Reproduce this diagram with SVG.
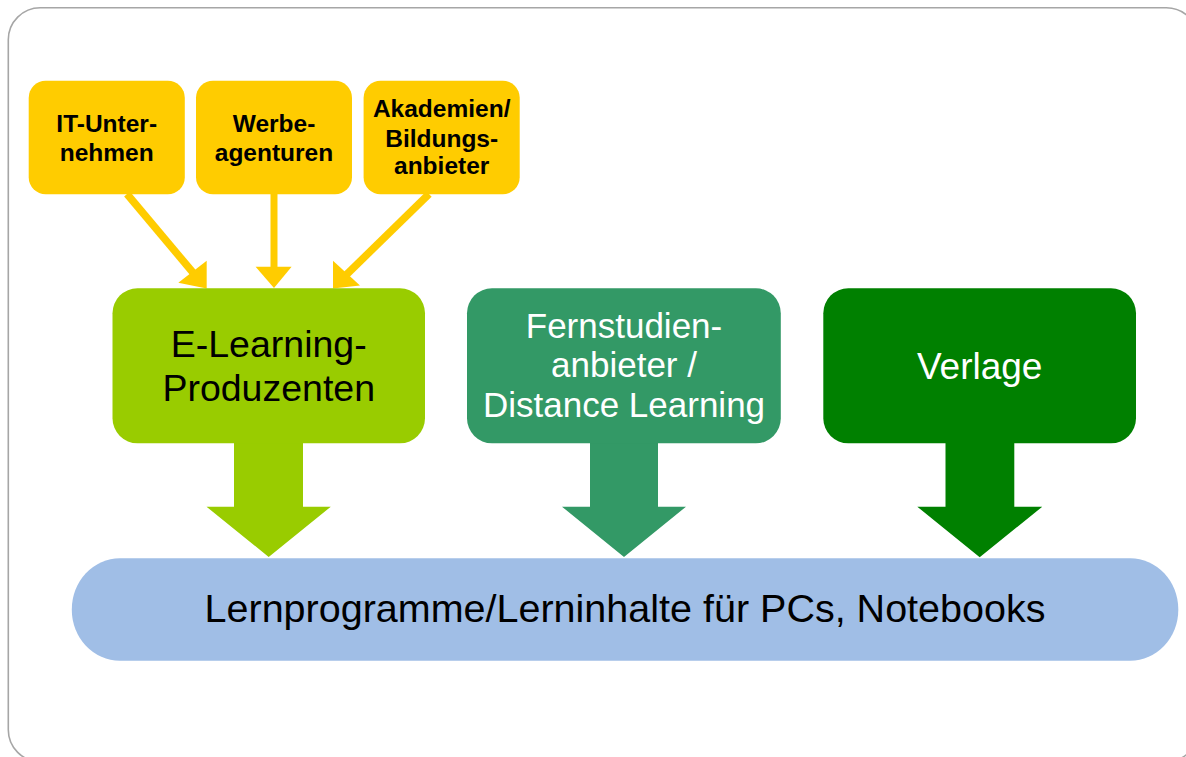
<svg xmlns="http://www.w3.org/2000/svg" width="1186" height="757" viewBox="0 0 1186 757">
<style>
.ybox{fill:#FFCC00}
.ytxt{font-family:"Liberation Sans",Arial,sans-serif;font-weight:bold;font-size:24.5px;fill:#000;text-anchor:middle}
.gtxt{font-family:"Liberation Sans",Arial,sans-serif;text-anchor:middle}
.yline{stroke:#FFCC00;stroke-width:7.5;fill:none}
.yhead{fill:#FFCC00}
</style>
<rect x="8.3" y="7.7" width="1190" height="754" rx="32" ry="32" fill="#FFFFFF" stroke="#A6A6A6" stroke-width="1.6"/>
<g id="connectors">
  <line class="yline" x1="127" y1="194" x2="195" y2="275"/>
  <polygon class="yhead" points="178.3,282.7 206.7,260.7 206.7,288.5"/>
  <line class="yline" x1="274" y1="194" x2="274" y2="268" style="stroke-width:7"/>
  <polygon class="yhead" points="255.6,266.7 291.6,266.7 274,288"/>
  <line class="yline" x1="429" y1="194" x2="343" y2="278"/>
  <polygon class="yhead" points="333,260.7 333,288.5 360,285.5"/>
  <polygon fill="#99CC00" points="234,440 303,440 303,506.7 330.8,506.7 268.7,557 206.5,506.7 234,506.7"/>
  <polygon fill="#339966" points="590,440 658,440 658,506.7 686,506.7 624,557 562,506.7 590,506.7"/>
  <polygon fill="#008000" points="945.5,440 1014.3,440 1014.3,506.7 1042.3,506.7 979.7,557.3 917.3,506.7 945.5,506.7"/>
</g>
<g id="it-unternehmen">
  <rect class="ybox" x="28.7" y="80.7" width="156.1" height="113.6" rx="17"/>
  <text class="ytxt" x="106.7" y="131.7">IT-Unter-</text>
  <text class="ytxt" x="106.7" y="161">nehmen</text>
</g>
<g id="werbeagenturen">
  <rect class="ybox" x="196" y="80.7" width="156" height="113.6" rx="17"/>
  <text class="ytxt" x="274" y="131.7">Werbe-</text>
  <text class="ytxt" x="274" y="161">agenturen</text>
</g>
<g id="akademien">
  <rect class="ybox" x="363.6" y="80.7" width="156.1" height="113.6" rx="17"/>
  <text class="ytxt" x="441.7" y="117.3">Akademien/</text>
  <text class="ytxt" x="441.7" y="146.7">Bildungs-</text>
  <text class="ytxt" x="441.7" y="174.3">anbieter</text>
</g>
<g id="elearning">
  <rect x="112.5" y="288.3" width="312.5" height="155" rx="25" fill="#99CC00"/>
  <text class="gtxt" x="268.75" y="357.3" font-size="37.5" fill="#000">E-Learning-</text>
  <text class="gtxt" x="268.75" y="401" font-size="37.5" fill="#000">Produzenten</text>
</g>
<g id="fernstudien">
  <rect x="467" y="288.3" width="313.8" height="155" rx="25" fill="#339966"/>
  <text class="gtxt" x="624" y="338.3" font-size="35" fill="#FFFFFF">Fernstudien-</text>
  <text class="gtxt" x="624" y="376.7" font-size="35" fill="#FFFFFF">anbieter /</text>
  <text class="gtxt" x="624" y="416.7" font-size="35" fill="#FFFFFF">Distance Learning</text>
</g>
<g id="verlage">
  <rect x="823.3" y="288.3" width="312.7" height="155" rx="25" fill="#008000"/>
  <text class="gtxt" x="979.7" y="379.3" font-size="37" fill="#FFFFFF">Verlage</text>
</g>
<g id="lernprogramme">
  <rect x="71.8" y="558.3" width="1106.5" height="102.4" rx="48" ry="51" fill="#A0BEE6"/>
  <text class="gtxt" x="625" y="621.7" font-size="39.5" fill="#000">Lernprogramme/Lerninhalte für PCs, Notebooks</text>
</g>
</svg>
